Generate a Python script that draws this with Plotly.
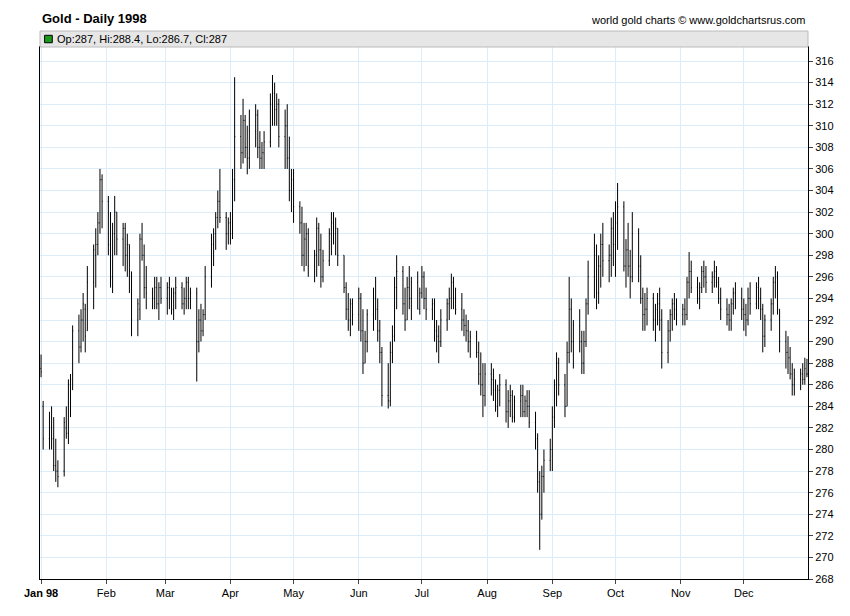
import pandas as pd
import plotly.graph_objects as go

# daily bars per month: (high, low, open, close)
jan = [(288.8,286.7,287.5,287.2),(284.5,280,284,281),(283.5,280,281,282),(284,280,282,281),(283,278,281,278.5),
       (281,277,278.5,278),(279,276.5,278,277.5),(283,277.5,278,282.5),(284,281,282,281.5),(286.5,280.5,281.5,286),
       (287,283,286,286.5),(291.5,285.5,287,291),(292.5,288,291,289.5),(293,289,289.5,292),(294.5,290,292,293.5),
       (293.5,289,293,290.5),(297,291,291,295.5),(299,293,295.5,298.5),(300.5,295,298,299),(302,298,299,301),
       (306,300,301,305),(305.5,300.5,305,303)]
feb = [(303.5,298,303,299),(302,295,299,296),(301,294.5,296,300),(303.5,298,300,302),(302,298,302,299.5),
       (301,297,299.5,300.5),(301,296.5,300.5,298),(300,296,298,299),(299,294.5,299,296.5),(296.5,290.5,296,292),
       (294,290.5,292,293.5),(300,292,293,299.5),(301,297.5,299.5,298),(299,294,298,295),(297,293,295,294.5),
       (295,293,294.5,294),(296,293,294,295),(296,293,295,293.5),(295.5,292,293.5,295),(296,293.5,295,294)]
mar = [(295.5,292.5,294,295),(296,293,295,294),(295,292.5,294,293),(295,292,293,294.5),(296,293,294.5,295),
       (295.5,293,295,293.5),(295,292.5,293.5,294),(296,293,294,295.5),(296,293,295.5,294),(295,293,294,294.5),
       (295,286.3,294.5,290),(293,289,290,292),(293.5,290,292,291),(293,290.5,291,292.5),(297,292,292.5,296),
       (300,295,296,299),(300.5,297,299,300),(302,298.5,300,301.5),(304,300.5,301.5,303),(306,301,303,301.5),
       (302,298.5,301.5,300),(301.5,299,300,301)]
apr = [(302,299,301,300),(306,299.5,300,305),(314.5,303,305,309),(311,306,309,307.5),(312.5,306.5,307.5,310.5),
       (311,307,310.5,308),(310,305.5,308,307),(311.5,306,307,309.5),(312,308,309.5,311),(311.5,307,311,308),
       (309.5,306,308,307),(308.5,306,307,307.5),(309.5,306,307.5,308.5),(313,308,308.5,312),(314.7,310,312,313),
       (314,310,313,311.5),(313,310,311.5,312),(312.5,308,312,309),(311.5,306,309,310),(312,306,310,307),
       (309,303,307,304),(306,302,304,305)]
may = [(306,301,305,302.5),(303,300,302.5,301),(302.5,297,301,298),(301,296.5,298,299.5),(301,297,299.5,300),
       (300.5,296,300,297),(298.5,295.5,297,298),(301.5,296,298,300.5),(301,297,300.5,298.5),(300,295,298.5,296),
       (298.5,295.5,296,297.5),(300.5,297,297.5,300),(302,298,300,301),(302,299,301,300),(301.5,298,300,300.5),
       (300.5,297,300.5,298),(298,294.5,298,295),(295.5,292,295,293),(294.5,291,293,292),(294,290.5,292,293.5),
       (294,291.5,293.5,292.5)]
jun = [(295,291,292.5,294),(294.5,290,294,291),(293,287,291,288),(291,288,288,290),(293,289,290,292.5),
       (295,291,292.5,294),(296,292,294,293),(294,290,293,291),(292,288,291,289),(289.5,284,289,285),
       (288,283.8,285,284.5),(290,284,284.5,289),(291.5,288,289,290.5),(296,290,290.5,295),(298,293,295,296.5),
       (297,292.5,296.5,293.5),(295,291,293.5,292),(296,292,292,295),(297,293,295,294),(296,292,294,295.5),
       (296.5,293,295.5,293),(295,292.5,293,294.5)]
jul = [(297,294,294.5,296),(296.5,293,296,294),(295,292,294,293),(294,292,293,293.5),(294,290,293.5,291),
       (292,289,291,290.5),(291.5,288,290.5,290),(293,289.5,290,292),(294,291,292,293.5),(295,292,293.5,294),
       (296.3,293,294,295.5),(296,293,295.5,294),(295,292.5,294,293),(294.5,291,293,292),(293,290.5,292,291.5),
       (292.5,290,291.5,291),(292,289,291,290),(291,288.5,290,290.5),(291,288.5,290.5,289),(290,286,289,287),
       (289,285,287,286),(288,283,286,285),(288,284,285,287)]
aug = [(288,285,287,286.5),(287.5,284.5,286.5,285.5),(286.5,283.5,285.5,284),(286,283,284,285.5),(287,284,285.5,286),
       (286.5,282.5,286,283.5),(285.5,282,283.5,284.5),(286,283,284.5,285),(285.5,282.5,285,283),(285,282.5,283,284.5),
       (286,283,284.5,285),(286,283,285,283.5),(285,283,283.5,284.5),(285.5,283,284.5,284),(285.5,282,284,282.5),
       (283.5,280,282.5,281),(281.5,276,281,277),(278,270.7,277,274),(278.5,273.5,274,277.5),(280,276,277.5,279),
       (281,278,279,280)]
sep = [(284,278,280,283),(286.5,282,283,286),(289,284,286,288),(288.5,285,288,286),(287,283,286,284),
       (290,284,284,289),(296,288,289,293),(294,289,293,290),(292,287.5,290,291.5),(293,289,291.5,290),
       (291,287,290,288),(291,287,288,290),(294,289.5,290,293.5),(297.5,292.5,293.5,296),(300,294,296,298),
       (299,293,298,294.5),(298,293.5,294.5,297),(300,295,297,299),(301,296,299,297.5),(299,295.5,297.5,298),
       (301.5,296,298,300.5),(302,297,300.5,299)]
oct_ = [(303,296,299,301),(304.7,298.5,301,302.5),(303,296.5,302.5,297),(299.5,295,297,298.5),(301,296,298.5,297),
        (298.5,294,297,296),(302,295.5,296,300),(300.5,295.5,300,297),(298,293.5,297,294),(295,291,294,292.5),
        (294.5,291,292.5,293),(295,291.5,293,294),(294.5,291,294,292),(293.5,290,292,293),(294.5,291.5,293,293.5),
        (295,291,293.5,292),(293,287.5,292,289),(292,288,289,291),(293,290,291,292.5),(294,291,292.5,293.5),
        (294.5,292,293.5,293),(294,291.5,293,292.5)]
nov = [(293.5,291.5,292.5,293),(294,291.5,293,292.5),(296,292,292.5,295.5),(298.3,294,295.5,296.5),(297.5,294.5,296.5,295),
       (296,293.5,295,294),(295.5,293,294,295),(297,294.5,295,296.5),(297.5,295,296.5,296),(297,294.5,296,295.5),
       (296.5,294.5,295.5,296),(297.5,295,296,296.5),(297,295,296.5,295.5),(296,293.5,295.5,294),(295,292,294,293),
       (294,291.5,293,292.5),(293.5,291,292.5,292),(294,291,292,293.5),(295,292.5,293.5,294.5),(295.5,293,294.5,294),
       (295,292,294,293)]
dec = [(294,291,293,292.5),(293.5,290.5,292.5,292),(295,291.5,292,294),(295.5,292.5,294,293.5),(295.5,293,293.5,295),
       (296,293,295,294),(295,292,294,293),(293.5,289,293,290.5),(292.5,289.5,290.5,292),(294,291,292,293.5),
       (296,292.5,293.5,295.5),(297,294,295.5,296),(296.5,292.5,296,293),(293,289,293,290),(291,287.5,290,289),
       (290.5,287,289,288.5),(289.5,286.5,288.5,287),(288,285,287,286),(287.5,285,286,286.5),(287.5,285.5,286.5,287),
       (288,286,287,286.5),(288.5,286,286.5,287.5),(288.4,286.7,287,287)]

months = [jan, feb, mar, apr, may, jun, jul, aug, sep, oct_, nov, dec]
tick_labels = ["Jan 98", "Feb", "Mar", "Apr", "May", "Jun", "Jul", "Aug", "Sep", "Oct", "Nov", "Dec"]

dates, highs, lows, opens, closes = [], [], [], [], []
for m, rows in enumerate(months, start=1):
    days = pd.bdate_range(f"1998-{m:02d}-01", periods=31)
    days = days[days.month == m][:len(rows)]
    for d, (h, l, o, c) in zip(days, rows):
        dates.append(d); highs.append(h); lows.append(l); opens.append(o); closes.append(c)

fig = go.Figure(go.Ohlc(x=dates, open=opens, high=highs, low=lows, close=closes,
                        increasing=dict(line=dict(color="black", width=1)),
                        decreasing=dict(line=dict(color="black", width=1)),
                        tickwidth=0.3, hoverinfo="x+y"))

tickvals = [f"1998-{m:02d}-01" for m in range(1, 13)]
ticktext = ["<b>Jan 98</b>"] + tick_labels[1:]
fig.update_layout(
    width=842, height=608, plot_bgcolor="white", paper_bgcolor="white",
    margin=dict(l=32, r=42, t=39, b=37), showlegend=False,
    font=dict(family="Liberation Sans, Arial", size=11, color="black"),
    xaxis=dict(rangeslider=dict(visible=False), range=["1997-12-31 12:00", "1998-12-31 12:00"],
               tickvals=tickvals, ticktext=ticktext, showgrid=True, gridcolor="#dcecf8",
               showline=True, linecolor="black", mirror=True, ticks="outside", ticklen=4),
    yaxis=dict(side="right", range=[268, 317.3], dtick=2, showgrid=True, gridcolor="#dcecf8",
               showline=True, linecolor="black", mirror=True, ticks="outside", ticklen=4),
)
fig.add_shape(type="rect", xref="paper", yref="paper", x0=0, x1=1, y0=1, y1=1.03,
              fillcolor="#e6e6e6", line=dict(color="#bbbbbb", width=1))
fig.add_shape(type="rect", xref="paper", yref="paper", x0=0.006, x1=0.016, y0=1.008, y1=1.022,
              fillcolor="#1a9a1a", line=dict(color="black", width=1))
fig.add_annotation(text="Op:287, Hi:288.4, Lo:286.7, Cl:287", xref="paper", yref="paper",
                   x=0.02, y=1.015, xanchor="left", yanchor="middle", showarrow=False, font=dict(size=11))
fig.add_annotation(text="<b>Gold - Daily 1998</b>", xref="paper", yref="paper", x=0, y=1.035,
                   xanchor="left", yanchor="bottom", showarrow=False, font=dict(size=13))
fig.add_annotation(text="world gold charts © www.goldchartsrus.com", xref="paper", yref="paper", x=1, y=1.035,
                   xanchor="right", yanchor="bottom", showarrow=False, font=dict(size=11))
fig.write_html("out.html")
